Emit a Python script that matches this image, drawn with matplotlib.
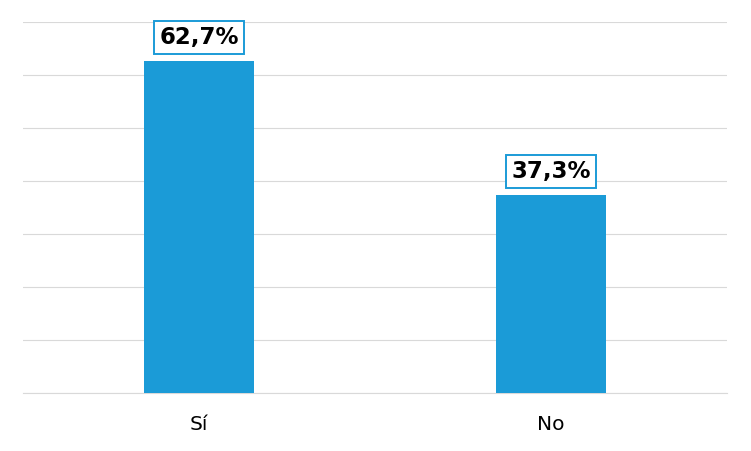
import matplotlib
matplotlib.use("Agg")
import matplotlib.pyplot as plt

categories = ["Sí", "No"]
values = [62.7, 37.3]
labels = ["62,7%", "37,3%"]

fig = plt.figure(figsize=(7.51, 4.51), dpi=100)
ax = fig.add_axes([23/751, 1-393/451, 704/751, 371/451])
x = list(range(len(categories)))
ax.bar(x, values, width=0.315, color="#1B9BD7", zorder=3)
ax.set_xlim(-0.5, 1.5)
ax.set_ylim(0, 70)
ax.set_yticks(range(0, 71, 10))
ax.yaxis.grid(True, color="#d9d9d9", linewidth=0.8, zorder=0)
ax.set_xticks(x)
ax.set_xticklabels(categories, fontsize=14.5, fontfamily="DejaVu Sans")
ax.tick_params(axis="x", length=0, pad=15.5)
ax.tick_params(axis="y", length=0, labelleft=False)
for s in ["left", "right", "top"]:
    ax.spines[s].set_visible(False)
ax.spines["bottom"].set_color("#d9d9d9")
ax.spines["bottom"].set_linewidth(0.8)

for xi, v, lab in zip(x, values, labels):
    ax.annotate(lab, (xi, v), xytext=(0, 17), textcoords="offset points",
                ha="center", va="center", fontsize=16.5, fontweight="bold",
                color="black", zorder=5,
                bbox=dict(boxstyle="square,pad=0.22", fc="white", ec="#1B9BD7", lw=1.4))

fig.savefig("out.png", dpi=100)
